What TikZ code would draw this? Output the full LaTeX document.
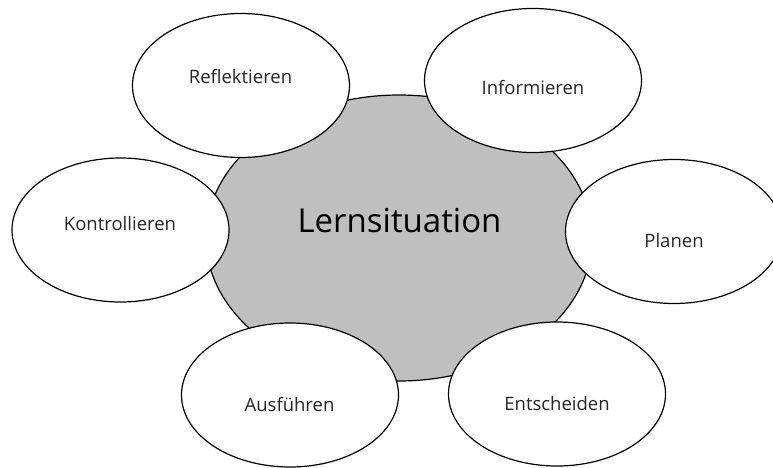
\documentclass[tikz,border=0pt]{standalone}
\usepackage{fontspec}
\setmainfont{Open Sans}
\usetikzlibrary{shapes.geometric}
\tikzset{
  blob/.style={ellipse, draw=black, line width=1.2pt, fill=white, inner sep=0pt,
    minimum width=217pt, minimum height=144pt},
  core/.style={ellipse, draw=black, line width=1.2pt, fill=coregray, inner sep=0pt,
    minimum width=386pt, minimum height=286pt},
  lbl/.style={anchor=base, inner sep=0pt, text=txtgray, font=\fontsize{18.5}{20}\selectfont},
  biglbl/.style={anchor=base, inner sep=0pt, text=black, font=\fontsize{33}{36}\selectfont}
}
\definecolor{coregray}{RGB}{191,191,191}
\definecolor{txtgray}{RGB}{38,38,38}
\begin{document}
\begin{tikzpicture}[x=1pt,y=-1pt]
\useasboundingbox (0,0) rectangle (773,468);
\clip (0,0) rectangle (773,468);
\node[core] (lern) at (399,238) {};
\node[blob] (refl) at (241,85.5) {};
\node[blob] (info) at (533,80.5) {};
\node[blob] (kont) at (120.5,230) {};
\node[blob] (plan) at (674,231.5) {};
\node[blob] (ausf) at (290,395) {};
\node[blob] (ents) at (557,394) {};
\node[biglbl] (tlern) at (399.5,232.7) {Lernsituation};
\node[lbl] (trefl) at (240.5,84) {Reflektieren};
\node[lbl] (tinfo) at (533,95) {Informieren};
\node[lbl] (tkont) at (120,230.7) {Kontrollieren};
\node[lbl] (tplan) at (674,247.3) {Planen};
\node[lbl] (tausf) at (289.5,411) {Ausführen};
\node[lbl] (tents) at (557,410) {Entscheiden};
\end{tikzpicture}
\end{document}
